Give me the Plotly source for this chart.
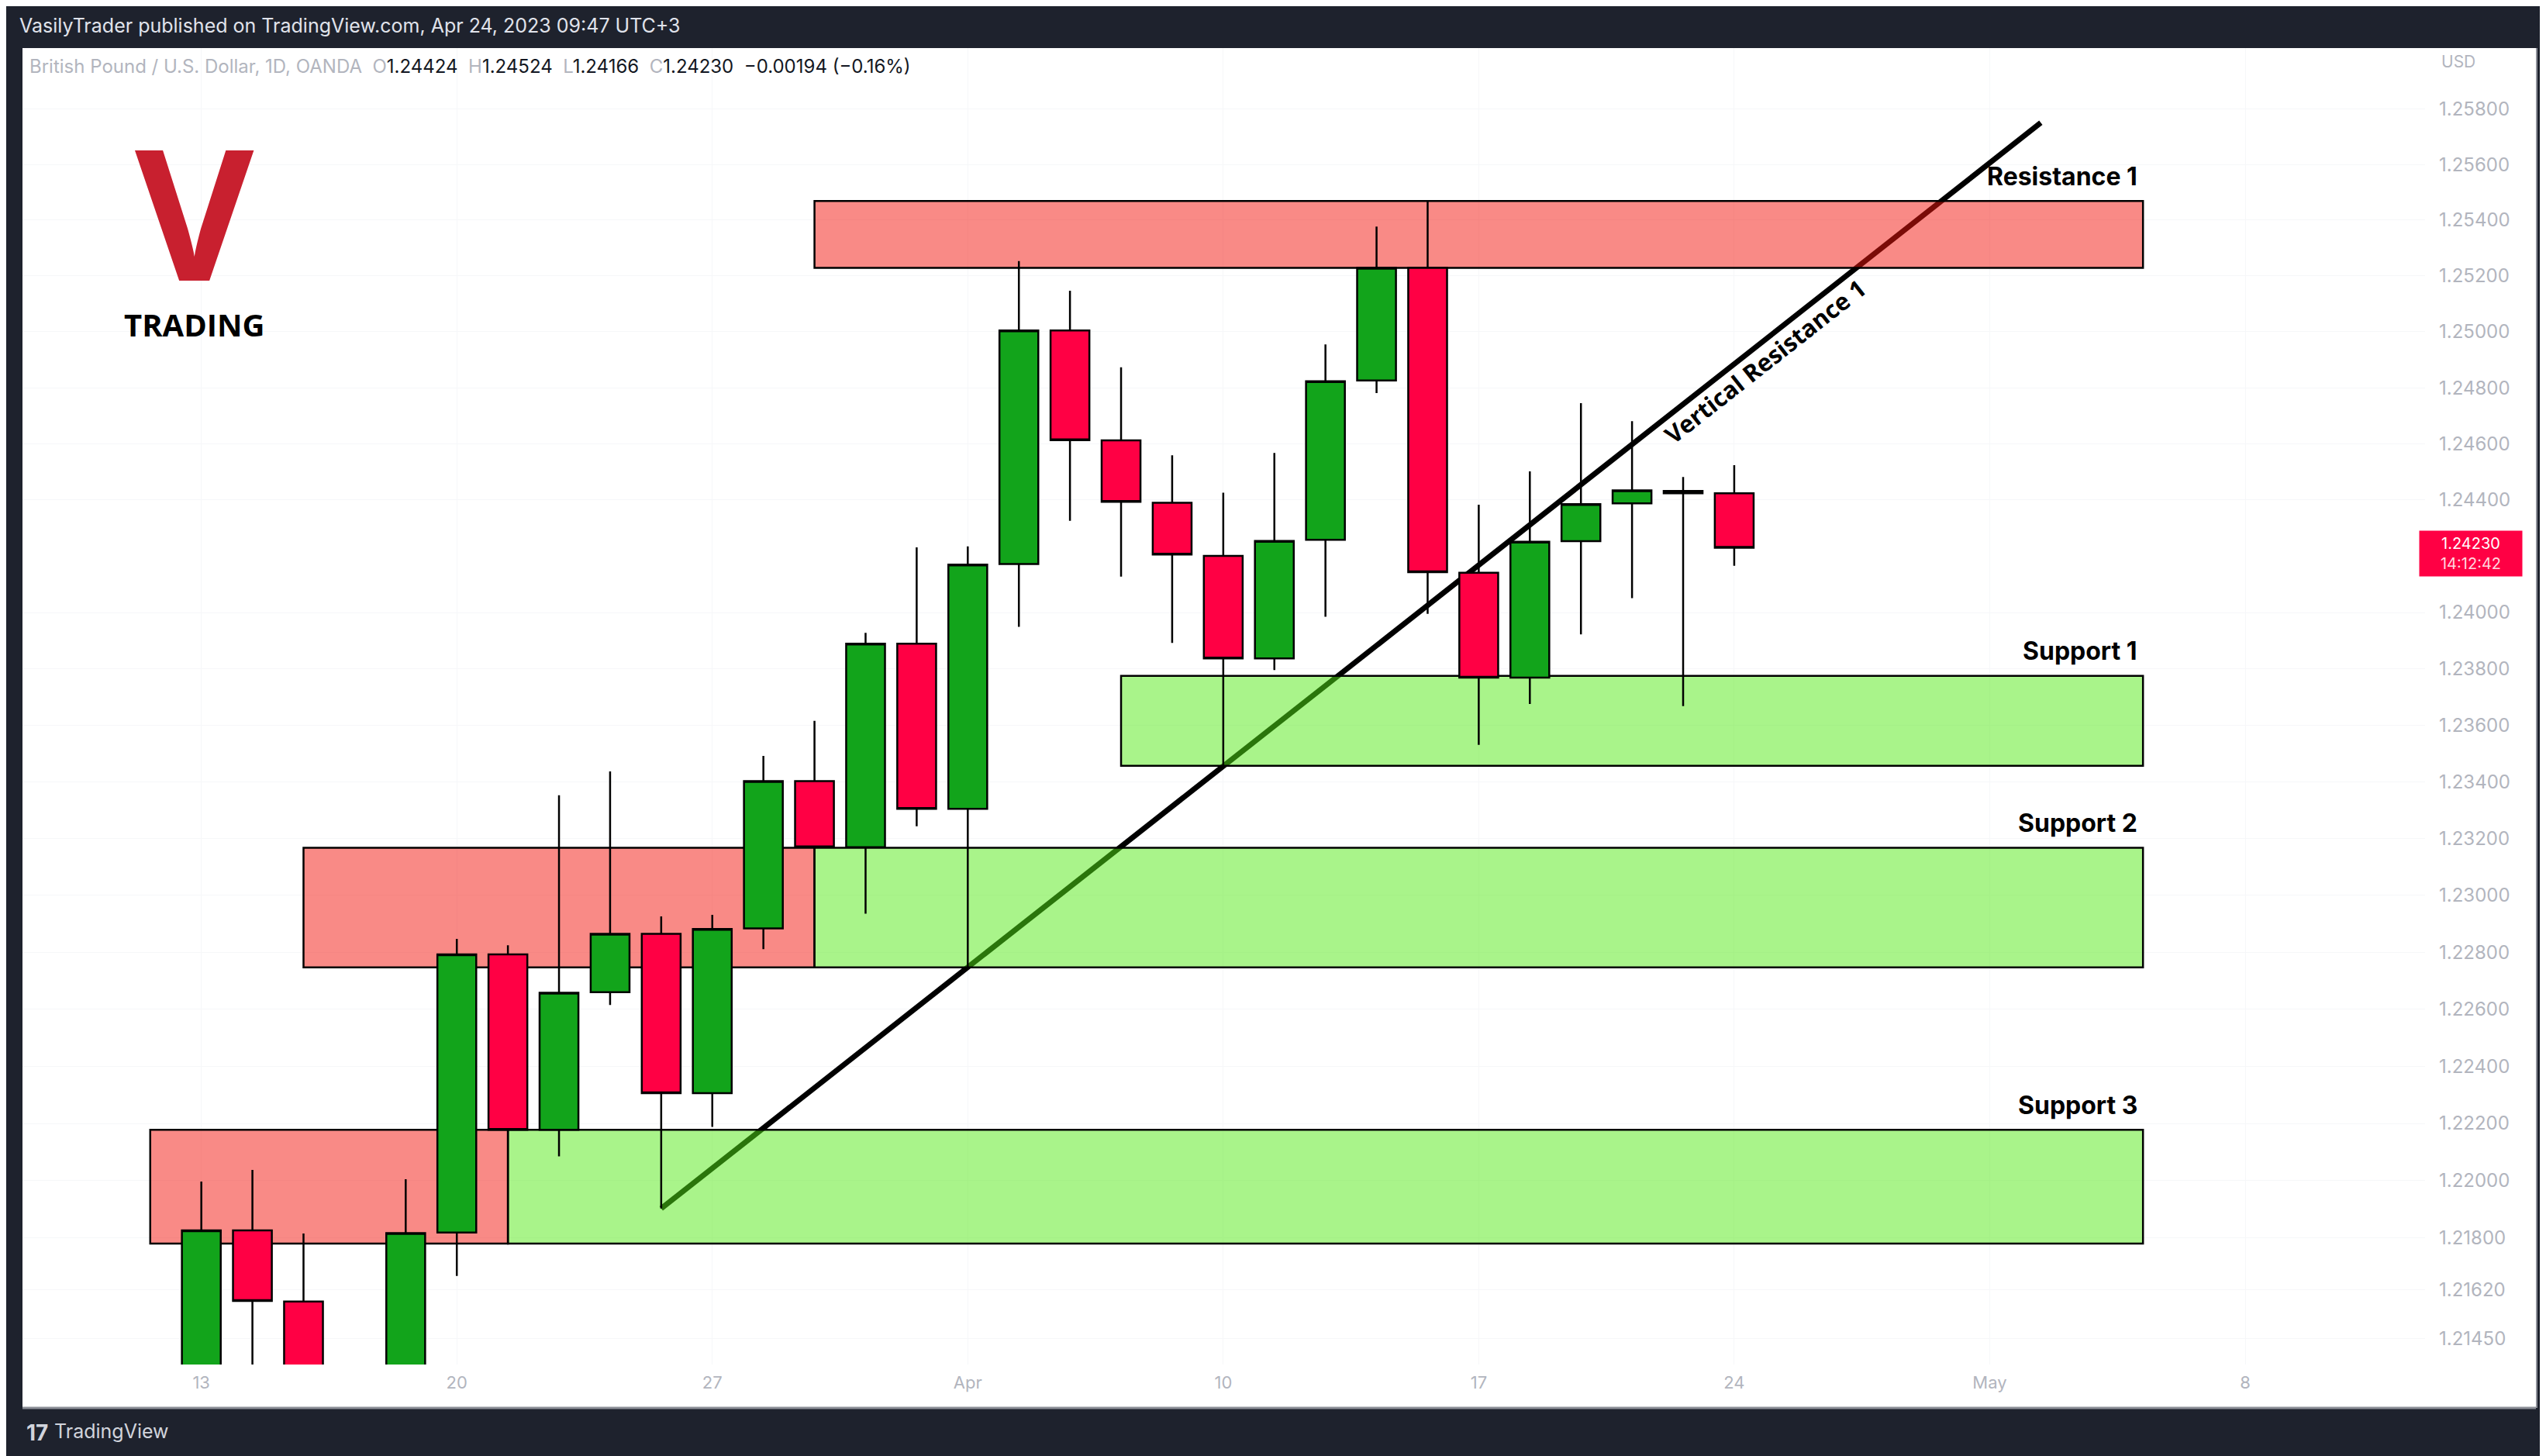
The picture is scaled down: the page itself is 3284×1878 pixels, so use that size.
import numpy as np
import plotly.graph_objects as go

# ---------------- data ----------------
BASE_DATE = "2023-03-13"

dates = ["2023-03-13", "2023-03-14", "2023-03-15", "2023-03-16", "2023-03-17",
         "2023-03-20", "2023-03-21", "2023-03-22", "2023-03-23", "2023-03-24",
         "2023-03-27", "2023-03-28", "2023-03-29", "2023-03-30", "2023-03-31",
         "2023-04-03", "2023-04-04", "2023-04-05", "2023-04-06", "2023-04-07",
         "2023-04-10", "2023-04-11", "2023-04-12", "2023-04-13", "2023-04-14",
         "2023-04-17", "2023-04-18", "2023-04-19", "2023-04-20", "2023-04-21",
         "2023-04-24"]
opens = [1.20400, 1.21827, 1.21579, 1.20600, 1.21050,
         1.21819, 1.22793, 1.22178, 1.22660, 1.22865,
         1.22306, 1.22884, 1.23403, 1.23170, 1.23889,
         1.23305, 1.24172, 1.25005, 1.24612, 1.24390,
         1.24201, 1.23837, 1.24258, 1.24826, 1.25229,
         1.24141, 1.23769, 1.24253, 1.24388, 1.24432,
         1.24424]
highs = [1.21997, 1.22038, 1.21816, 1.21250, 1.22005,
         1.22847, 1.22825, 1.23353, 1.23437, 1.22926,
         1.22932, 1.23492, 1.23616, 1.23928, 1.24231,
         1.24235, 1.25253, 1.25147, 1.24873, 1.24559,
         1.24426, 1.24567, 1.24955, 1.25377, 1.25469,
         1.24383, 1.24502, 1.24745, 1.24681, 1.24482,
         1.24524]
lows = [1.20100, 1.21200, 1.20100, 1.20100, 1.20900,
        1.21668, 1.22176, 1.22085, 1.22615, 1.21903,
        1.22188, 1.22811, 1.23165, 1.22936, 1.23244,
        1.22748, 1.23949, 1.24326, 1.24127, 1.23892,
        1.23457, 1.23796, 1.23985, 1.24781, 1.23995,
        1.23531, 1.23676, 1.23922, 1.24051, 1.23668,
        1.24166]
closes = [1.21827, 1.21581, 1.20600, 1.21050, 1.21817,
          1.22793, 1.22178, 1.22658, 1.22865, 1.22306,
          1.22882, 1.23403, 1.23170, 1.23889, 1.23305,
          1.24170, 1.25005, 1.24613, 1.24393, 1.24206,
          1.23837, 1.24254, 1.24823, 1.25229, 1.24143,
          1.23769, 1.24251, 1.24385, 1.24434, 1.24424,
          1.24230]

tick_dates = ["2023-03-13", "2023-03-20", "2023-03-27", "2023-04-03", "2023-04-10",
              "2023-04-17", "2023-04-24", "2023-05-01", "2023-05-08"]
tick_labels = ["13", "20", "27", "Apr", "10", "17", "24", "May", "8"]

price_ticks = [1.25800, 1.25600, 1.25400, 1.25200, 1.25000, 1.24800, 1.24600, 1.24400,
               1.24000, 1.23800, 1.23600, 1.23400, 1.23200, 1.23000, 1.22800, 1.22600,
               1.22400, 1.22200, 1.22000, 1.21800, 1.21620, 1.21450]

zone_labels = ["Resistance 1", "", "Support 1", "Support 2", "Support 3", ""]
zone_kinds = ["res", "res", "sup", "sup", "sup", "res"]
zone_start = ["2023-03-29", "2023-03-15", "2023-04-06", "2023-03-29", "2023-03-21", "2023-03-10"]
zone_end = ["2023-05-04", "2023-03-29", "2023-05-04", "2023-05-04", "2023-05-04", "2023-03-21"]
zone_low = [1.25229, 1.22747, 1.23457, 1.22747, 1.21781, 1.21781]
zone_high = [1.25469, 1.23168, 1.23775, 1.23168, 1.22178, 1.22178]

trend_dates = ["2023-03-24", "2023-05-02"]
trend_prices = [1.21903, 1.25750]

last_price = 1.24230
countdown = "14:12:42"

# ---------------- geometry ----------------
W, H = 3284, 1878
ML, MR, MT, MB = 21, 164, 54, 126
PW, PH = W - ML - MR, H - MT - MB


def pos(d):
    return float(np.busday_count(BASE_DATE, d))


def px(x):
    return (x - ML) / PW


def py(y):
    return (H - MB - y) / PH


x_pos = [pos(d) for d in dates]
x_range = [-3.5, 43.52]
y_range = [np.log10(1.21360), np.log10(1.26019)]

BG = "#1e222d"
GRAY = "#b2b5be"
GREEN = "#12a41b"
RED = "#ff0044"
FILL = {"res": "rgba(243,21,13,0.5)", "sup": "rgba(83,233,21,0.5)"}

shapes = [
    # white panel
    dict(type="rect", xref="paper", yref="paper", x0=px(21), x1=px(3263), y0=py(1807), y1=py(54),
         fillcolor="#ffffff", line=dict(width=0), layer="below"),
    # trend line (drawn first so the translucent zones sit over it)
    dict(type="line", xref="x", yref="y",
         x0=pos(trend_dates[0]), y0=trend_prices[0], x1=pos(trend_dates[1]), y1=trend_prices[1],
         line=dict(color="#000000", width=7), layer="between"),
]
annotations = []

for lab, kind, s, e, lo, hi in zip(zone_labels, zone_kinds, zone_start, zone_end, zone_low, zone_high):
    shapes.append(dict(type="rect", xref="x", yref="y", x0=pos(s), x1=pos(e), y0=lo, y1=hi,
                       fillcolor=FILL[kind], line=dict(color="#000000", width=2.5), layer="between"))
    if lab:
        annotations.append(dict(x=pos(e), y=np.log10(hi), xref="x", yref="y", text="<b>" + lab + "</b>",
                                showarrow=False, xanchor="right", yanchor="middle", yshift=32,
                                xshift=-5, font=dict(family="Inter", size=32, color="#000000")))

shapes += [
    dict(type="line", xref="paper", yref="paper", x0=px(21), x1=px(3263), y0=py(1808), y1=py(1808),
         line=dict(color="#8a8d96", width=3), layer="above"),
    dict(type="line", xref="paper", yref="paper", x0=px(3264), x1=px(3264), y0=py(1808), y1=py(54),
         line=dict(color="#8a8d96", width=2), layer="above"),
]

annotations += [
    dict(x=30.6, y=np.log10(1.24894), xref="x", yref="y",
         text="<b>Vertical Resistance 1</b>", showarrow=False, textangle=-38.2,
         font=dict(family="Open Sans", size=31, color="#000000")),
    dict(x=px(15), y=py(25), xref="paper", yref="paper", xanchor="left", yanchor="middle",
         text="VasilyTrader published on TradingView.com, Apr 24, 2023 09:47 UTC+3",
         font=dict(family="Inter", size=25, color="#e0e3eb"), showarrow=False),
    dict(x=px(28), y=py(78), xref="paper", yref="paper", xanchor="left", yanchor="middle",
         text=("<span style='color:#b2b5be'>British Pound / U.S. Dollar, 1D, OANDA</span>  "
               "<span style='color:#b2b5be'>O</span>1.24424  "
               "<span style='color:#b2b5be'>H</span>1.24524  "
               "<span style='color:#b2b5be'>L</span>1.24166  "
               "<span style='color:#b2b5be'>C</span>1.24230  −0.00194 (−0.16%)"),
         font=dict(family="Inter", size=24, color="#131722"), showarrow=False),
    dict(x=px(3139), y=py(72), xref="paper", yref="paper", xanchor="left", yanchor="middle",
         text="USD", font=dict(family="Inter", size=21, color=GRAY), showarrow=False),
    # logo: big V with TRADING underneath, one text block
    dict(x=px(243), y=py(100), xref="paper", yref="paper", xanchor="center", yanchor="top",
         text=("<b><span style='font-size:236px;color:#c8202f'>V</span><br>"
               "<span style='font-size:40px;color:#000000'>TRADING</span></b>"),
         align="center", font=dict(family="Open Sans", size=55, color="#000000"), showarrow=False),
    dict(x=px(40), y=py(1840), xref="paper", yref="paper", xanchor="center", yanchor="middle",
         text="<b>17</b>", font=dict(family="Inter", size=28, color="#d1d4dc"), showarrow=False),
    dict(x=px(60), y=py(1838), xref="paper", yref="paper", xanchor="left", yanchor="middle",
         text="TradingView", font=dict(family="Inter", size=25, color="#d1d4dc"), showarrow=False),
    dict(x=px(3112), y=np.log10(last_price), xref="paper", yref="y", xanchor="left", yanchor="top",
         yshift=22, text=f"{last_price:.5f}<br><span style='color:#ffd6df'>{countdown}</span>",
         font=dict(family="Inter", size=20, color="#ffffff"), bgcolor=RED, width=124,
         align="center", borderpad=4, showarrow=False),
]

fig = go.Figure()
fig.add_trace(go.Candlestick(
    x=x_pos, open=opens, high=highs, low=lows, close=closes,
    increasing=dict(fillcolor=GREEN, line=dict(color="#000000", width=2.5)),
    decreasing=dict(fillcolor=RED, line=dict(color="#000000", width=2.5)),
    whiskerwidth=0, hoverinfo="skip", showlegend=False))

fig.update_layout(
    width=W, height=H,
    margin=dict(l=ML, r=MR, t=MT, b=MB, autoexpand=False),
    paper_bgcolor=BG, plot_bgcolor="#ffffff",
    boxgap=0.24, boxgroupgap=0,
    shapes=shapes, annotations=annotations,
    showlegend=False,
    xaxis=dict(range=x_range, tickvals=[pos(d) for d in tick_dates], ticktext=tick_labels,
               showgrid=True, gridcolor="#f6f7f9", gridwidth=1, zeroline=False, showline=False,
               ticks="", tickfont=dict(family="Inter", size=22, color=GRAY),
               ticklabelstandoff=8, rangeslider=dict(visible=False), automargin=False,
               fixedrange=True),
    yaxis=dict(type="log", range=y_range, side="right", tickvals=price_ticks,
               ticktext=[f"{v:.5f}" for v in price_ticks],
               showgrid=True, gridcolor="#f6f7f9", gridwidth=1, zeroline=False, showline=False,
               ticks="", tickfont=dict(family="Inter", size=24, color=GRAY),
               ticklabelstandoff=17, automargin=False, fixedrange=True),
)

fig.write_html("out.html")
